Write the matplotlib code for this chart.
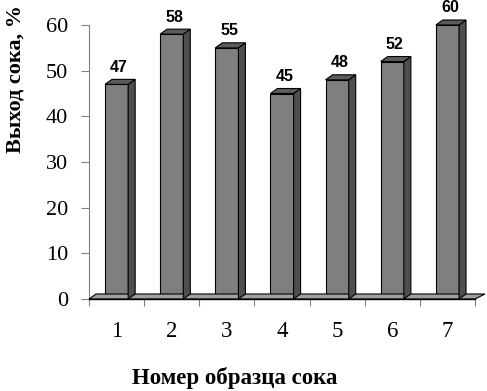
import matplotlib
matplotlib.use("Agg")
import matplotlib.pyplot as plt
from matplotlib.patches import Polygon
import numpy as np

categories = ["1", "2", "3", "4", "5", "6", "7"]
values = [47, 58, 55, 45, 48, 52, 60]
yticks = [0, 10, 20, 30, 40, 50, 60]

W, H = 487, 391
fig = plt.figure(figsize=(W / 100, H / 100), dpi=100)
# axes: x from 89 to 475 px, y from 299 (0) to 25 (60)
ax = fig.add_axes([89 / W, 1 - 299 / H, (475 - 89) / W, (299 - 25) / H])

x = np.arange(1, len(values) + 1)
bw = 0.42
front = "#7f7f7f"
side = "#4e4e4e"
top = "#5c5c5c"
floor_c = "#a0a0a0"
DX, DY = 7, 5  # depth offset in pixels

ax.set_xlim(0.5, len(values) + 0.5)
ax.set_ylim(0, 60)

serif = "Liberation Serif"
ax.set_yticks(yticks)
ax.set_yticklabels([str(t) for t in yticks], fontfamily=serif, fontsize=16)
ax.set_xticks(np.arange(0.5, len(values) + 1, 1.0))
ax.set_xticklabels([])
ax.set_xticks(x, minor=True)
ax.set_xticklabels(categories, minor=True, fontfamily=serif, fontsize=16.5)
ax.tick_params(axis="x", which="minor", length=0, pad=16)
ax.tick_params(axis="x", which="major", length=5, width=0.8, color="#808080", direction="out")
ax.tick_params(axis="y", length=6, width=0.8, color="#808080", pad=9)
for s in ["top", "right"]:
    ax.spines[s].set_visible(False)
ax.spines["left"].set_color("#808080")
ax.spines["bottom"].set_visible(False)

fig.canvas.draw()
T = ax.transData

# floor
p0 = T.transform((0.5, 0))
p1 = T.transform((len(values) + 0.5, 0))
floor = Polygon([p0, p1, p1 + [DX + 3, DY], p0 + [DX, DY]], closed=True,
                transform=None, facecolor=floor_c, edgecolor="black", lw=0.8, zorder=1)
fig.patches.append(floor)
fig.lines.append(plt.Line2D([p0[0], p1[0]], [p0[1], p1[1]], transform=None, color="black", lw=1.0, zorder=2))

bars = ax.bar(x, values, width=bw, color=front, edgecolor="black", linewidth=0.8, zorder=3)
for xi, v in zip(x, values):
    br = T.transform((xi + bw / 2, 0))
    tl = T.transform((xi - bw / 2, v))
    tr = T.transform((xi + bw / 2, v))
    d = np.array([DX, DY])
    sidep = Polygon([br, tr, tr + d, br + d], closed=True, transform=None,
                    facecolor=side, edgecolor="black", lw=0.8, zorder=3)
    topp = Polygon([tl, tr, tr + d, tl + d], closed=True, transform=None,
                   facecolor=top, edgecolor="black", lw=0.8, zorder=3)
    fig.patches.append(sidep)
    fig.patches.append(topp)
    ax.annotate(str(v), (xi, v), xytext=(DX / 2 - 1, DY + 12), textcoords="offset pixels",
                ha="center", va="center", fontsize=11.5, fontweight="bold",
                fontfamily="Liberation Sans", zorder=5, annotation_clip=False)

fig.text(16 / W, 1 - 79 / H, "Выход сока, %", fontfamily=serif, fontsize=16,
         fontweight="bold", ha="center", va="center", rotation=90)
fig.text(235 / W, 1 - 378 / H, "Номер образца сока", fontfamily=serif, fontsize=16.5,
         fontweight="bold", ha="center", va="center")

fig.savefig("out.png", dpi=100)
